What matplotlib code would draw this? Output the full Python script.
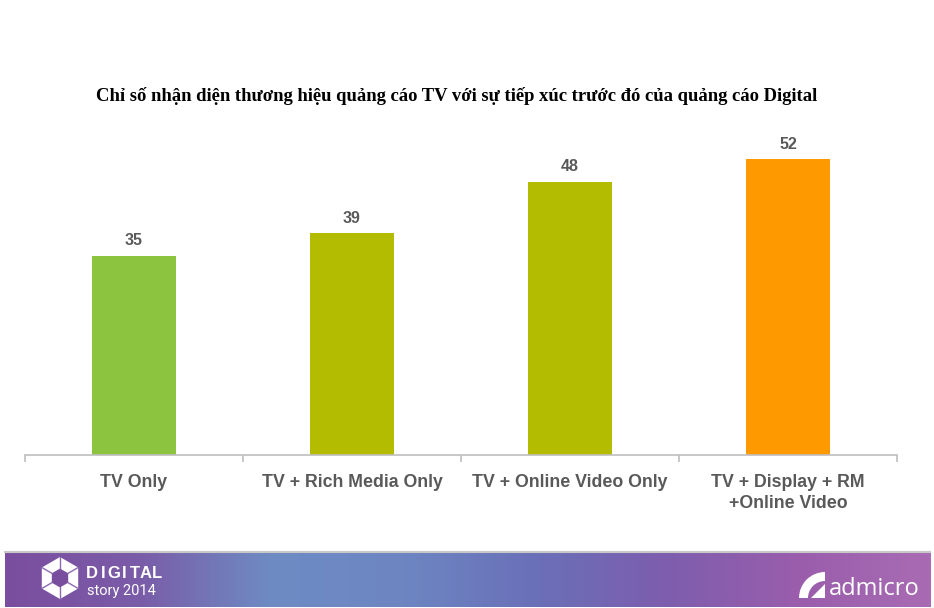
import numpy as np
import matplotlib
matplotlib.use("Agg")
import matplotlib.pyplot as plt
from matplotlib.colors import LinearSegmentedColormap
from matplotlib.patches import Polygon, Wedge
from matplotlib.transforms import IdentityTransform

# Data
categories = ["TV Only", "TV + Rich Media Only", "TV + Online Video Only",
              "TV + Display + RM\n+Online Video"]
values = [35, 39, 48, 52]
bar_colors = ["#8DC43F", "#B3BC00", "#B3BC00", "#FF9900"]
title = "Chỉ số nhận diện thương hiệu quảng cáo TV với sự tiếp xúc trước đó của quảng cáo Digital"

W, H = 934, 608
fig = plt.figure(figsize=(W / 100, H / 100), dpi=100)
fig.patch.set_facecolor("white")

sans = ["Liberation Sans", "DejaVu Sans"]
grey = "#595959"

# main chart axes: baseline at y=455px, x from 25 to 897px
ymax = 55
left, right, base = 25, 897, 455
top = base - ymax * 5.69
ax = fig.add_axes([left / W, 1 - base / H, (right - left) / W, (base - top) / H])
x = np.arange(len(categories))
ax.bar(x, values, width=0.385, color=bar_colors, zorder=2)
ax.set_xlim(-0.5, len(categories) - 0.5)
ax.set_ylim(0, ymax)

for xi, v in zip(x, values):
    ax.text(xi, v + 1.3, str(v), ha="center", va="bottom", fontsize=11.5,
            fontweight="bold", color=grey, family=sans)

for s in ["top", "right", "left"]:
    ax.spines[s].set_visible(False)
ax.spines["bottom"].set_color("#BFBFBF")
ax.spines["bottom"].set_linewidth(1.2)
ax.set_yticks([])
ax.set_xticks(x)
ax.set_xticklabels(categories, fontsize=12.8, fontweight="bold", color=grey,
                   family=sans, linespacing=1.25)
ax.tick_params(axis="x", which="major", length=0, pad=14)
ax.set_xticks(np.arange(-0.5, len(categories)), minor=True)
ax.tick_params(axis="x", which="minor", length=5, color="#BFBFBF", width=1.2)

# title
fig.text(457 / W, 1 - 96 / H, title, ha="center", va="center", fontsize=13.4,
         fontweight="bold", color="black",
         family=["Liberation Serif", "DejaVu Serif"])

# bottom banner
bx0, bx1, by0, by1 = 5, 930, 552, 607
bax = fig.add_axes([bx0 / W, 1 - by1 / H, (bx1 - bx0) / W, (by1 - by0) / H])
cmap = LinearSegmentedColormap.from_list(
    "banner", ["#7B4E9F", "#7A5CA8", "#6E8BC4", "#6D86C2", "#6A70B8",
               "#7D5DAE", "#9A5DAC", "#A86BB3"])
grad = np.linspace(0, 1, 400).reshape(1, -1)
bax.imshow(grad, aspect="auto", cmap=cmap, extent=[0, 1, 0, 1])
bax.set_xlim(0, 1)
bax.set_ylim(0, 1)
bax.axis("off")
fig.add_artist(plt.Line2D([bx0 / W, bx1 / W], [1 - by0 / H, 1 - by0 / H],
                          transform=fig.transFigure, color="#C8C8C8", lw=1.5))

px = IdentityTransform()

# DIGITAL story logo (hexagon ring)
cx, cy, r = 60, H - 578, 21
ang = np.deg2rad(np.arange(6) * 60 + 30)
outer = np.c_[cx + r * np.cos(ang), cy + r * np.sin(ang)]
inner = np.c_[cx + 0.45 * r * np.cos(ang), cy + 0.45 * r * np.sin(ang)]
fig.add_artist(Polygon(outer, closed=True, transform=px,
                       facecolor="white", edgecolor="none"))
fig.add_artist(Polygon(inner, closed=True, transform=px,
                       facecolor="#7A4E9E", edgecolor="none"))
for k in range(6):
    fig.add_artist(plt.Line2D([inner[k, 0], outer[k, 0]], [inner[k, 1], outer[k, 1]],
                              transform=px, color="#8D6AB0", lw=1))
# evenly spaced condensed-looking letters
for i, ch in enumerate("DIGITAL"):
    fig.text((92 + i * 10.8) / W, 1 - 574 / H, ch, ha="center", va="center",
             fontsize=12, fontweight="bold", color="white", family=sans)
fig.text(87 / W, 1 - 591 / H, "story 2014", ha="left", va="center",
         fontsize=10.5, color="white", family=["Roboto", "DejaVu Sans"])

# admicro logo
fig.add_artist(Wedge((825, H - 598), 26, 90, 180, width=9,
                     transform=px, facecolor="white", edgecolor="none"))
fig.add_artist(Polygon([[811, H - 598], [825, H - 584], [825, H - 598]], closed=True,
                       transform=px, facecolor="white", edgecolor="none"))
fig.text(829 / W, 1 - 589 / H, "admicro", ha="left", va="center",
         fontsize=17, color="white", family=["Open Sans", "DejaVu Sans"])

fig.savefig("out.png", dpi=100)
